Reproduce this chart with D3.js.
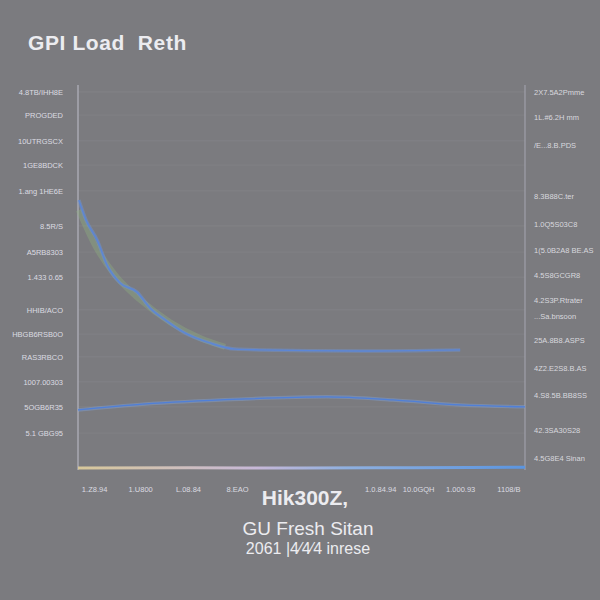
<!DOCTYPE html>
<html><head><meta charset="utf-8">
<script src="https://cdn.jsdelivr.net/npm/d3@7"></script>
<style>html,body{margin:0;padding:0;background:#7b7b7f;}svg{display:block;}</style>
</head><body>
<svg id="chart" width="600" height="600"></svg>
<script>
// ---- data ----
const titleText = "GPI Load  Reth";
const xAxisTitle = "Hik300Z,";
const subtitle1 = "GU Fresh Sitan";
const subtitle2 = "2061 |4⁄4⁄4 inrese";

const leftTickValues = [98.2, 92.2, 85.5, 79.2, 72.5, 63.4, 56.6, 50.1, 41.6, 35.3, 29.4, 22.9, 16.4, 9.6];
const leftTickLabels = ["4.8TB/IHH8E", "PROGDED", "10UTRGSCX", "1GE8BDCK", "1.ang 1HE6E", "8.5R/S", "A5RB8303", "1.433 0.65", "HHIB/ACO", "HBGB6RSB0O", "RAS3RBCO", "1007.00303", "5OGB6R35", "5.1 GBG95"];

const rightTickValues = [98.2, 91.7, 84.4, 71.2, 63.9, 57.1, 50.6, 44.2, 40.0, 33.8, 26.5, 19.5, 10.4, 3.1];
const rightTickLabels = ["2X7.5A2Pmme", "1L.#6.2H mm", "/E...8.B.PDS", "8.3B88C.ter", "1.0Q5S03C8", "1(5.0B2A8 BE.AS", "4.5S8GCGR8", "4.2S3P.Rtrater", "...Sa.bnsoon", "25A.8B8.ASPS", "4Z2.E2S8.B.AS", "4.S8.5B.BB8SS", "42.3SA30S28", "4.5G8E4 Sinan"];

const bottomTickValues = [3.6, 13.9, 24.6, 35.6, 67.6, 76.1, 85.5, 96.3];
const bottomTickLabels = ["1.Z8.94", "1.U800", "L.08.84", "8.EAO", "1.0.84.94", "10.0GQH", "1.000.93", "1108/B"];

const decayX = [0.2, 1.8, 4.3, 6.5, 9.4, 13.2, 16.1, 19.5, 23.9, 29.5, 35.1, 40.7, 63.1, 85.5];
const decayY = [70.1, 64.9, 59.7, 53.2, 48.6, 46.2, 42.1, 39.0, 35.6, 33.0, 31.4, 31.2, 30.9, 31.2];

const greenX = [0.2, 3.8, 8.3, 13.9, 20.6, 27.3, 32.9];
const greenY = [67.5, 58.4, 50.6, 44.2, 38.4, 34.3, 32.0];

const humpX = [0, 14.5, 36.2, 55.7, 70.5, 85.5, 100];
const humpY = [15.6, 17.1, 18.4, 19.0, 18.2, 16.9, 16.4];

const baseX = [0, 25, 50, 75, 100];
const baseY = [0.5, 0.6, 0.5, 0.6, 0.7];

// ---- layout ----
const svg = d3.select("#chart");
const L = 78, R = 525, T = 85, B = 470;
const x = d3.scaleLinear().domain([0, 100]).range([L, R]);
const y = d3.scaleLinear().domain([0, 100]).range([B, T]);
const FONT = "Liberation Sans, Arial, sans-serif";

svg.append("rect").attr("width", 600).attr("height", 600).attr("fill", "#7b7b7f");

// gridlines
svg.append("g").selectAll("line").data(leftTickValues).join("line")
  .attr("x1", L).attr("x2", R).attr("y1", d => y(d)).attr("y2", d => y(d))
  .attr("stroke", "#828286").attr("stroke-width", 1);

// left axis
const leftAxis = d3.axisLeft(y).tickValues(leftTickValues)
  .tickFormat((d, i) => leftTickLabels[i]).tickSize(0).tickPadding(15);
const gl = svg.append("g").attr("transform", `translate(${L},0)`).call(leftAxis);
gl.select(".domain").remove();
gl.selectAll("text").attr("fill", "#dcdce2").style("font-family", FONT).style("font-size", "7.5px");

const rightAxis = d3.axisRight(y).tickValues(rightTickValues)
  .tickFormat((d, i) => rightTickLabels[i]).tickSize(0).tickPadding(9);
const gr = svg.append("g").attr("transform", `translate(${R},0)`).call(rightAxis);
gr.select(".domain").remove();
gr.selectAll("text").attr("fill", "#d8d8de").style("font-family", FONT).style("font-size", "7.5px");

const bottomAxis = d3.axisBottom(x).tickValues(bottomTickValues)
  .tickFormat((d, i) => bottomTickLabels[i]).tickSize(0).tickPadding(17);
const gb = svg.append("g").attr("transform", `translate(0,${B})`).call(bottomAxis);
gb.select(".domain").remove();
gb.selectAll("text").attr("fill", "#dcdce2").style("font-family", FONT).style("font-size", "7.5px");

// axis lines
svg.append("line").attr("x1", L).attr("x2", L).attr("y1", T).attr("y2", B)
  .attr("stroke", "#a8a8b2").attr("stroke-width", 1.5);
svg.append("line").attr("x1", R).attr("x2", R).attr("y1", T).attr("y2", B)
  .attr("stroke", "#a0a0aa").attr("stroke-width", 1.2);

const line = d3.line().x(d => x(d[0])).y(d => y(d[1])).curve(d3.curveMonotoneX);

// green soft line
svg.append("path").datum(d3.zip(greenX, greenY)).attr("d", line)
  .attr("fill", "none").attr("stroke", "#8fb080").attr("stroke-width", 6).attr("opacity", 0.4);
// decay blue
svg.append("path").datum(d3.zip(decayX, decayY)).attr("d", line)
  .attr("fill", "none").attr("stroke", "#6f94d6").attr("stroke-width", 3.5).attr("opacity", 0.45);
svg.append("path").datum(d3.zip(decayX, decayY)).attr("d", line)
  .attr("fill", "none").attr("stroke", "#5b86d8").attr("stroke-width", 1.4);

// hump line
svg.append("path").datum(d3.zip(humpX, humpY)).attr("d", line)
  .attr("fill", "none").attr("stroke", "#7fa6e0").attr("stroke-width", 3.5).attr("opacity", 0.4);
svg.append("path").datum(d3.zip(humpX, humpY)).attr("d", line)
  .attr("fill", "none").attr("stroke", "#4f7fd8").attr("stroke-width", 1.3);

// base line
const grad = svg.append("defs").append("linearGradient").attr("id", "bg1");
grad.append("stop").attr("offset", "0%").attr("stop-color", "#d8c89a");
grad.append("stop").attr("offset", "40%").attr("stop-color", "#c7b8d8");
grad.append("stop").attr("offset", "60%").attr("stop-color", "#8fb0e0");
grad.append("stop").attr("offset", "100%").attr("stop-color", "#5b95e0");
svg.append("path").datum(d3.zip(baseX, baseY)).attr("d", line)
  .attr("fill", "none").attr("stroke", "url(#bg1)").attr("stroke-width", 3);

// texts
svg.append("text").attr("x", 28).attr("y", 50).text(titleText)
  .attr("fill", "#ececf0").style("font-family", FONT).style("white-space", "pre")
  .style("font-size", "21px").style("font-weight", "bold").style("letter-spacing", "0.6px");
svg.append("text").attr("x", 305).attr("y", 505).attr("text-anchor", "middle").text(xAxisTitle)
  .attr("fill", "#ececf0").style("font-family", FONT)
  .style("font-size", "21px").style("font-weight", "bold");
svg.append("text").attr("x", 308).attr("y", 535).attr("text-anchor", "middle").text(subtitle1)
  .attr("fill", "#ececf0").style("font-family", FONT)
  .style("font-size", "19px");
svg.append("text").attr("x", 308).attr("y", 554).attr("text-anchor", "middle").text(subtitle2)
  .attr("fill", "#ececf0").style("font-family", FONT)
  .style("font-size", "16px");
</script>
</body></html>
